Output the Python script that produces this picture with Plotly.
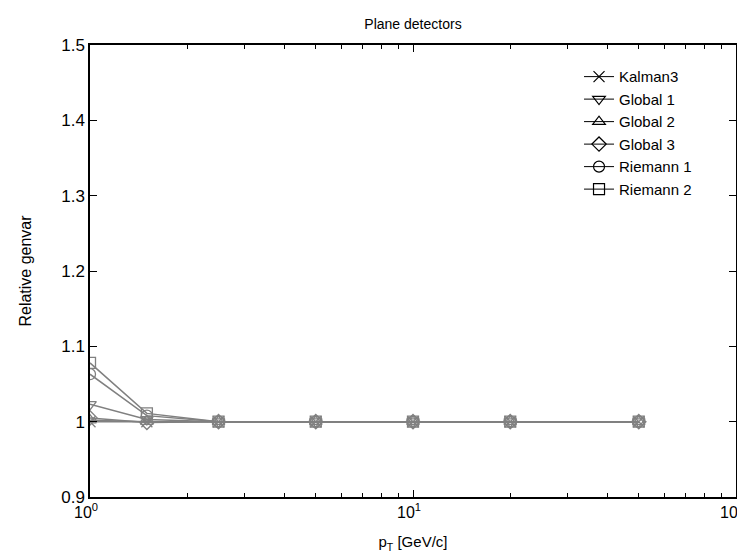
import plotly.graph_objects as go

pt = [1, 1.5, 2.5, 5, 10, 20, 50]
series_names = ["Kalman3", "Global 1", "Global 2", "Global 3", "Riemann 1", "Riemann 2"]
kalman3 = [1.0, 1.0, 1.0, 1.0, 1.0, 1.0, 1.0]
global1 = [1.023, 1.003, 1.0, 1.0, 1.0, 1.0, 1.0]
global2 = [1.002, 1.0, 1.0, 1.0, 1.0, 1.0, 1.0]
global3 = [1.005, 0.999, 1.0, 1.0, 1.0, 1.0, 1.0]
riemann1 = [1.063, 1.008, 1.0, 1.0, 1.0, 1.0, 1.0]
riemann2 = [1.078, 1.011, 1.0, 1.0, 1.0, 1.0, 1.0]
symbols = ["x-thin-open", "triangle-down-open", "triangle-up-open", "diamond-open", "circle-open", "square-open"]
yticks = [0.9, 1.0, 1.1, 1.2, 1.3, 1.4, 1.5]
yticktext = ["0.9", "1", "1.1", "1.2", "1.3", "1.4", "1.5"]
xticks = [1, 10, 100]
xticktext = ["10<sup>0</sup>", "10<sup>1</sup>", "10<sup>2</sup>"]

all_vals = [kalman3, global1, global2, global3, riemann1, riemann2]
FONT = "Liberation Sans, Arial, sans-serif"

fig = go.Figure()
for name, vals, sym in zip(series_names, all_vals, symbols):
    fig.add_trace(go.Scatter(
        x=pt, y=vals, mode="lines+markers", name=name, showlegend=False,
        line=dict(color="#808080", width=1.5),
        marker=dict(symbol=sym, size=11, color="#808080", line=dict(width=1.3, color="#808080")),
    ))
for name, sym in zip(series_names, symbols):
    fig.add_trace(go.Scatter(
        x=[None], y=[None], mode="lines+markers", name=name,
        line=dict(color="black", width=1),
        marker=dict(symbol=sym, size=11, color="black", line=dict(width=1.2, color="black")),
    ))

fig.update_layout(
    width=745, height=558,
    margin=dict(l=82, r=17, t=37, b=69, autoexpand=False),
    paper_bgcolor="white", plot_bgcolor="white",
    font=dict(family=FONT, size=16, color="black"),
    title=dict(text="Plane detectors", x=(82 + 728) / 2 / 745, xanchor="center",
               y=1 - 16 / 558, yanchor="middle", font=dict(size=14)),
    showlegend=True,
    legend=dict(x=0.757, y=0.966, xanchor="left", yanchor="top", bgcolor="rgba(0,0,0,0)",
                font=dict(size=15), tracegroupgap=0),
)
fig.update_xaxes(
    type="log", range=[0, 2], tickvals=xticks, ticktext=xticktext, automargin=False,
    ticks="inside", ticklen=7, tickcolor="black", showline=True, linecolor="black", linewidth=1.5,
    mirror="ticks", showgrid=False, zeroline=False, ticklabelshift=-4,
    minor=dict(ticks="inside", ticklen=4, tickcolor="black", dtick="D1", showgrid=False),
    title=dict(text="p<sub>T</sub> [GeV/c]", font=dict(size=15), standoff=17),
    tickfont=dict(size=16),
)
fig.update_yaxes(
    range=[0.9, 1.5], tickvals=yticks, ticktext=yticktext, automargin=False,
    ticks="inside", ticklen=7, tickcolor="black", showline=True, linecolor="black", linewidth=1.5,
    mirror="ticks", showgrid=False, zeroline=False,
    title=dict(text="Relative genvar", font=dict(size=16), standoff=26),
    tickfont=dict(size=17),
)
fig.write_html("out.html")
